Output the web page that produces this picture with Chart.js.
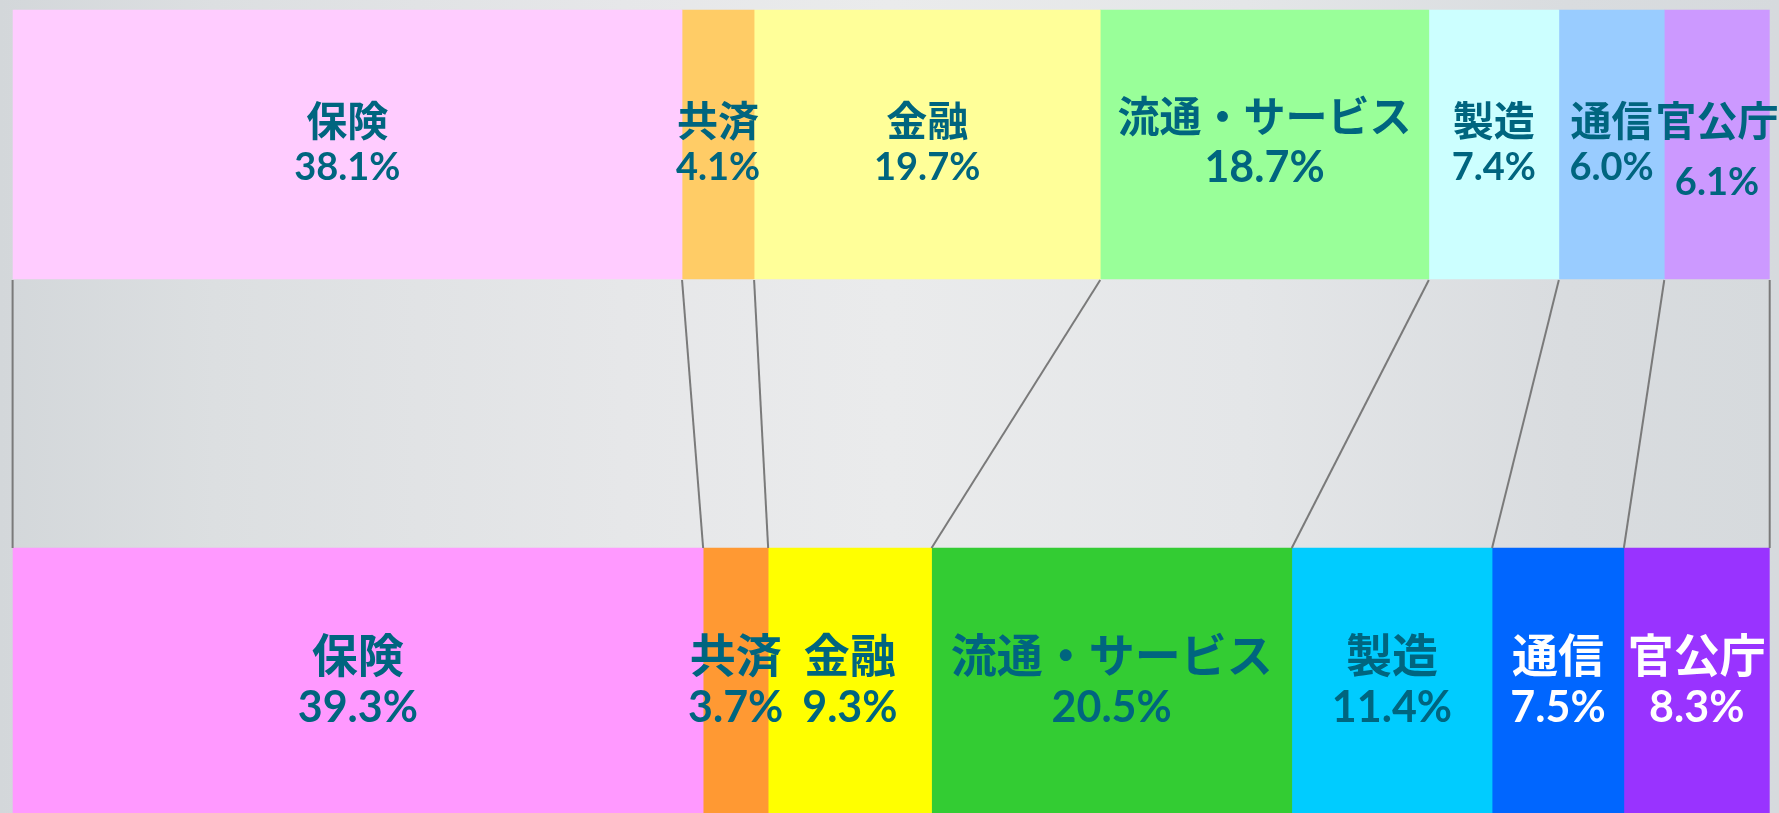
<!DOCTYPE html>
<html>
<head>
<meta charset="utf-8">
<script src="https://cdn.jsdelivr.net/npm/chart.js@4/dist/chart.umd.min.js"></script>
<style>
  html, body { margin: 0; padding: 0; width: 1779px; height: 813px; overflow: hidden; }
  body {
    background: linear-gradient(to right, #d3d7da 0%, #dcdfe1 12%, #e6e7e9 35%, #eaebec 50%, #e4e6e8 70%, #d9dcdf 88%, #d6dadd 100%);
  }
  #wrap { position: absolute; left: 0; top: 0; width: 1779px; height: 813px; }
</style>
</head>
<body>
<div id="wrap"><canvas id="chart"></canvas></div>
<script>
// ---- data ----
const categories = ['保険', '共済', '金融', '流通・サービス', '製造', '通信', '官公庁'];
const rowLabels = ['上段', '下段'];
const topValues = [38.1, 4.1, 19.7, 18.7, 7.4, 6.0, 6.1];
const bottomValues = [39.3, 3.7, 9.3, 20.5, 11.4, 7.5, 8.3];

// ---- styles ----
const topColors = ['#FFCCFF', '#FFCC66', '#FFFF99', '#99FF99', '#CCFFFF', '#99CCFF', '#CC99FF'];
const bottomColors = ['#FF99FF', '#FF9933', '#FFFF00', '#33CC33', '#00CCFF', '#0066FF', '#9933FF'];
const labelColor = '#00657f';
const bottomLabelColors = [labelColor, labelColor, labelColor, labelColor, labelColor, '#ffffff', '#ffffff'];
const rowStyle = [
  { cjk: '700 41px "Noto Sans CJK JP"', num: '700 38px Lato', l1: -24.5, l2: 35.5 },
  { cjk: '700 46px "Noto Sans CJK JP"', num: '700 43px Lato', l1: -27.5, l2: 39.5 }
];
const styleOverrides = {
  '0-3': { cjk: '700 42px "Noto Sans CJK JP"', num: '700 43px Lato', l1: -28.5, l2: 37.5 },
  '0-6': { l2: 50.5 }
};

const datasets = categories.map((name, i) => ({
  label: name,
  data: [topValues[i], bottomValues[i]],
  backgroundColor: [topColors[i], bottomColors[i]],
  borderWidth: 0,
  barThickness: 269,
  clip: { left: 0, right: 0, top: 200, bottom: 200 }
}));

const overlay = {
  id: 'overlay',
  afterDatasetsDraw(chart) {
    const ctx = chart.ctx;
    const area = chart.chartArea;
    const metas = categories.map((_, i) => chart.getDatasetMeta(i));
    // connector lines
    ctx.save();
    ctx.strokeStyle = '#7a7a7a';
    ctx.lineWidth = 2;
    const bounds = [];
    const t0 = metas[0].data[0], b0 = metas[0].data[1];
    bounds.push([t0.base, b0.base]);
    metas.forEach(m => bounds.push([m.data[0].x, m.data[1].x]));
    const yTop = t0.y + t0.height / 2 + 1;
    const yBot = b0.y - b0.height / 2;
    bounds.forEach(([xt, xb]) => {
      xt = Math.min(Math.max(xt, area.left), area.right);
      xb = Math.min(Math.max(xb, area.left), area.right);
      ctx.beginPath();
      ctx.moveTo(xt, yTop);
      ctx.lineTo(xb, yBot);
      ctx.stroke();
    });
    ctx.restore();

    // labels
    ctx.save();
    ctx.textAlign = 'center';
    metas.forEach((m, i) => {
      [0, 1].forEach(r => {
        const el = m.data[r];
        const right = Math.min(el.x, area.right);
        const cx = (el.base + right) / 2;
        const cy = el.y;
        const st = Object.assign({}, rowStyle[r], styleOverrides[r + '-' + i] || {});
        const val = (r === 0 ? topValues : bottomValues)[i];
        ctx.fillStyle = r === 0 ? labelColor : bottomLabelColors[i];
        ctx.font = st.cjk;
        ctx.textBaseline = 'middle';
        ctx.fillText(categories[i], cx, cy + st.l1);
        ctx.font = st.num;
        ctx.textBaseline = 'alphabetic';
        ctx.fillText(val.toFixed(1) + '%', cx, cy + st.l2);
      });
    });
    ctx.restore();
  }
};

new Chart(document.getElementById('chart'), {
  type: 'bar',
  data: { labels: rowLabels, datasets },
  options: {
    indexAxis: 'y',
    responsive: true,
    maintainAspectRatio: false,
    animation: false,
    layout: { padding: { left: 12.6, right: 9.3, top: 144.5, bottom: 130.5 } },
    scales: {
      x: { type: 'linear', stacked: true, min: 0, max: 100, display: false },
      y: { type: 'category', stacked: true, offset: false, display: false }
    },
    plugins: { legend: { display: false }, tooltip: { enabled: false } }
  },
  plugins: [overlay]
});
</script>
</body>
</html>
